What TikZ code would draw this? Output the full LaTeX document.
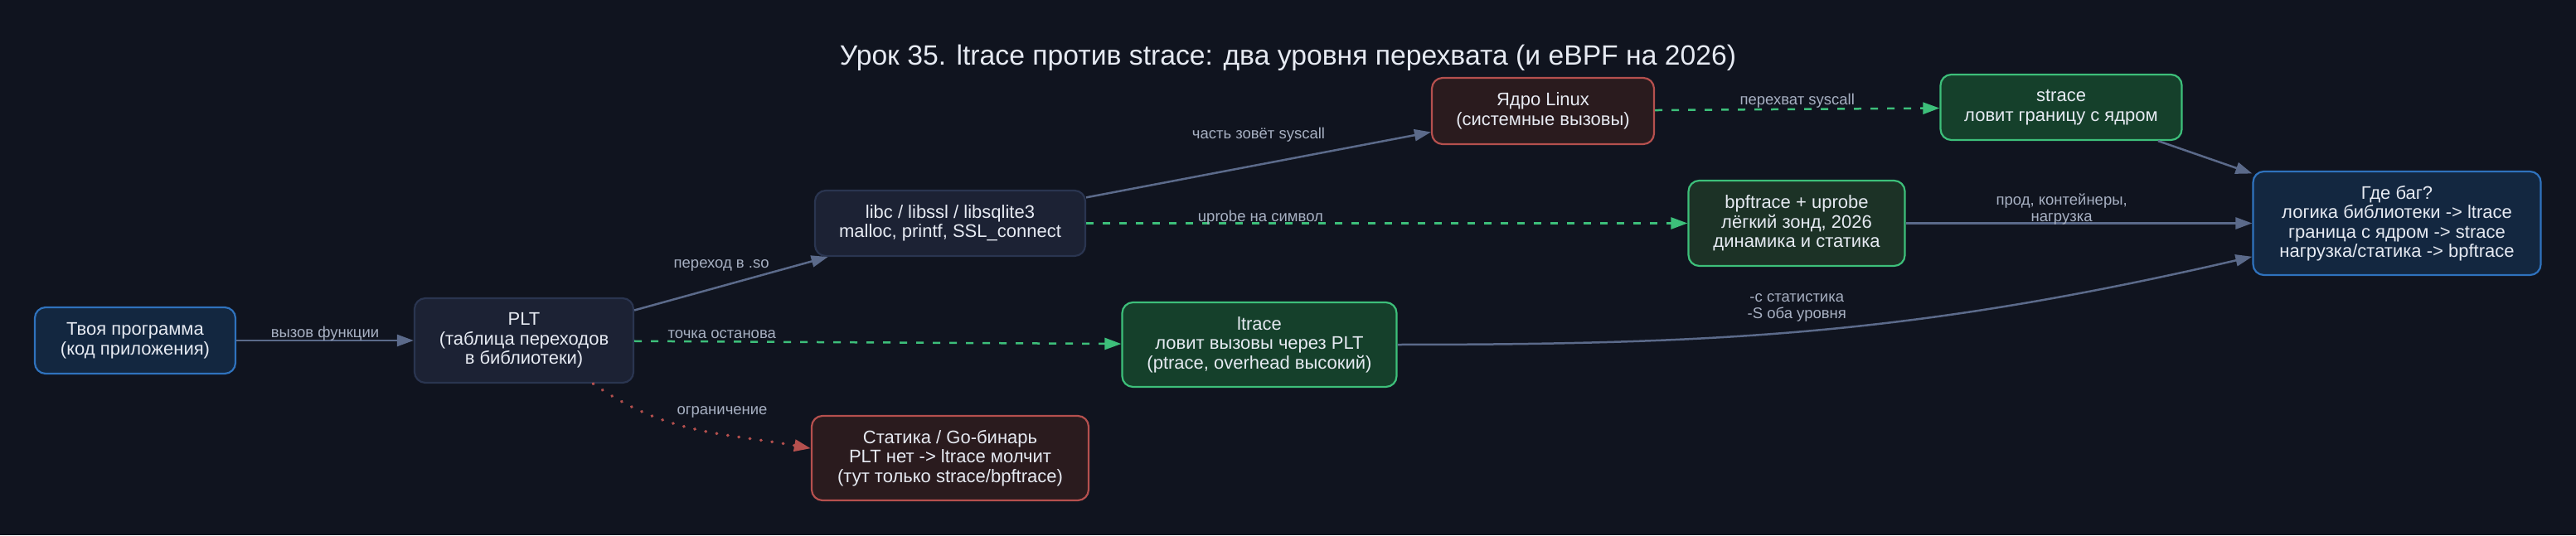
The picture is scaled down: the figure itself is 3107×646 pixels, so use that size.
\documentclass[tikz,border=0pt]{standalone}
\usepackage{fontspec}
\setmainfont{Liberation Sans}
\usetikzlibrary{arrows.meta}

\definecolor{bgc}{HTML}{10141F}
\definecolor{txt}{HTML}{E6EAF2}
\definecolor{lbltxt}{HTML}{A7B0C2}
\definecolor{edgec}{HTML}{5B6A8A}
\definecolor{bluedraw}{HTML}{2F72BD}
\definecolor{bluefill}{HTML}{132740}
\definecolor{graydraw}{HTML}{2A3550}
\definecolor{grayfill}{HTML}{1C2234}
\definecolor{okdraw}{HTML}{3DBF7A}
\definecolor{okfill}{HTML}{15402B}
\definecolor{okfilltwo}{HTML}{1C3226}
\definecolor{baddraw}{HTML}{B5504E}
\definecolor{badfill}{HTML}{2A1B1E}

\begin{document}
\begin{tikzpicture}[x=1pt, y=1pt,
  box/.style={draw, rounded corners=13pt, line width=2.2pt, align=center, text=txt, inner sep=0pt,
    font=\fontsize{22}{23.5}\selectfont},
  userbox/.style={box, draw=bluedraw, fill=bluefill},
  libbox/.style={box, draw=graydraw, fill=grayfill},
  toolbox/.style={box, draw=okdraw, fill=okfill},
  badbox/.style={box, draw=baddraw, fill=badfill},
  arr/.style={draw=edgec, line width=2.5pt, -{Triangle[length=20pt,width=14pt]}},
  okarr/.style={arr, draw=okdraw, dash pattern=on 9pt off 11pt},
  badarr/.style={arr, draw=baddraw, line cap=round, dash pattern=on 0.5pt off 13pt, line width=3.6pt},
  lbl/.style={text=lbltxt, align=center, inner sep=1pt, font=\fontsize{18.5}{20}\selectfont}]
  \useasboundingbox (0,0) rectangle (3107,646);
  \fill[bgc] (0,0) rectangle (3107,646);

  \node[text=txt, font=\fontsize{33.7}{38}\selectfont] (ttl) at (1553.5,576)
    {Урок 35. ltrace против strace: два уровня перехвата (и eBPF на 2026)};

  \node[userbox, minimum width=242, minimum height=80]  (app)    at (163,235)    {Твоя программа\\(код приложения)};
  \node[libbox,  minimum width=264, minimum height=102] (plt)    at (632,235)    {PLT\\(таблица переходов\\в библиотеки)};
  \node[libbox,  minimum width=326, minimum height=79]  (libc)   at (1146,376.5) {libc / libssl / libsqlite3\\malloc, printf, SSL\_connect};
  \node[badbox,  minimum width=268, minimum height=80]  (kernel) at (1861,512)   {Ядро Linux\\(системные вызовы)};
  \node[badbox,  minimum width=334, minimum height=102] (stat)   at (1146,93)    {Статика / Go-бинарь\\PLT нет -> ltrace молчит\\(тут только strace/bpftrace)};
  \node[toolbox, minimum width=331, minimum height=102] (ltrace) at (1519,230)   {ltrace\\ловит вызовы через PLT\\(ptrace, overhead высокий)};
  \node[toolbox, fill=okfilltwo, minimum width=261, minimum height=103] (bpf) at (2167,376.5) {bpftrace + uprobe\\лёгкий зонд, 2026\\динамика и статика};
  \node[toolbox, minimum width=291, minimum height=79]  (strace) at (2486,516.5) {strace\\ловит границу с ядром};
  \node[userbox, minimum width=347, minimum height=125] (bug)    at (2891,376.5) {Где баг?\\логика библиотеки -> ltrace\\граница с ядром -> strace\\нагрузка/статика -> bpftrace};

  \draw[arr] (app) -- node[lbl, yshift=8pt] {вызов функции} (plt);
  \draw[arr] (plt) -- node[lbl, pos=.45, yshift=25pt] {переход в .so} (libc);
  \draw[arr] (libc) -- node[lbl, pos=.5, yshift=36pt] {часть зовёт syscall} (kernel);
  \draw[okarr] (plt) -- node[lbl, pos=.18, yshift=9pt] {точка останова} (ltrace);
  \draw[okarr] (libc) -- node[lbl, pos=.29, yshift=7pt] {uprobe на символ} (bpf);
  \draw[okarr] (kernel) -- node[lbl, yshift=10pt] {перехват syscall} (strace);
  \draw[badarr] (plt.-32) .. controls +(88,-62) and +(-106,19) .. node[lbl, pos=.6, xshift=6pt, yshift=26pt] {ограничение} (stat.176);
  \draw[arr] (strace) -- (bug);
  \draw[arr] (bpf) -- node[lbl, pos=.45, yshift=17pt] {прод, контейнеры,\\нагрузка} (bug);
  \draw[arr] (ltrace.east) .. controls +(406,0) and +(-395,-91) .. node[lbl, pos=.46, yshift=29pt] {-c статистика\\-S оба уровня} (bug.193);
\end{tikzpicture}
\end{document}
